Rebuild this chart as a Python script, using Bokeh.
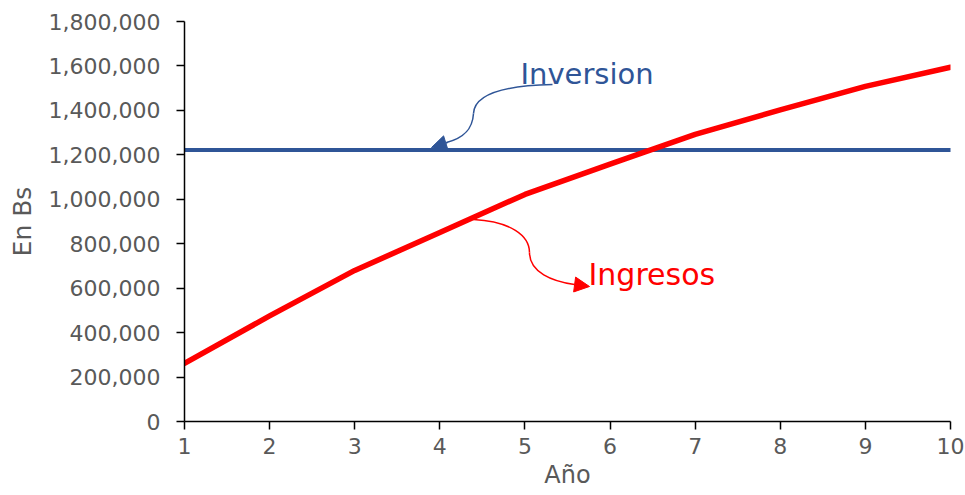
from bokeh.plotting import figure
from bokeh.models import (FixedTicker, NumeralTickFormatter, Range1d, Label,
                          Arrow, NormalHead)
from bokeh.embed import file_html
from bokeh.resources import INLINE

# ---- data ----
years = [1, 2, 3, 4, 5, 6, 7, 8, 9, 10]
ingresos = [262000, 475000, 680000, 850000, 1022000, 1158000, 1292000, 1402000, 1508000, 1594000]
inversion = [1222000] * 10
y_ticks = [0, 200000, 400000, 600000, 800000, 1000000, 1200000, 1400000, 1600000, 1800000]
x_ticks = years

BLUE = "#2F5597"
RED = "#FF0000"
GRAY = "#595959"
FONT = "DejaVu Sans"

W, H = 965, 495
L, R, T, B = 184, 15, 21, 74

p = figure(width=W, height=H, output_backend="svg", toolbar_location=None,
           x_range=Range1d(1, 10), y_range=Range1d(0, 1800000),
           min_border_left=L, min_border_right=R, min_border_top=T, min_border_bottom=B)
p.outline_line_color = None
p.xgrid.grid_line_color = None
p.ygrid.grid_line_color = None
p.background_fill_color = "white"
p.border_fill_color = "white"

# lines
p.line(years, inversion, line_color=BLUE, line_width=4, line_cap="round")
p.line(years, ingresos, line_color=RED, line_width=5.5, line_cap="round", line_join="round")

# axes
for ax in (p.xaxis[0], p.yaxis[0]):
    ax.axis_line_color = "black"
    ax.axis_line_width = 1.5
    ax.major_tick_line_color = "black"
    ax.major_tick_line_width = 1.5
    ax.major_tick_out = 8
    ax.major_tick_in = 0
    ax.minor_tick_line_color = None
    ax.major_label_text_color = GRAY
    ax.major_label_text_font = FONT
    ax.major_label_text_font_size = "22px"
    ax.axis_label_text_color = GRAY
    ax.axis_label_text_font = FONT
    ax.axis_label_text_font_size = "24px"
    ax.axis_label_text_font_style = "normal"

p.yaxis.axis_label_text_font_size = "25px"
p.xaxis.ticker = FixedTicker(ticks=x_ticks)
p.yaxis.ticker = FixedTicker(ticks=y_ticks)
p.yaxis.formatter = NumeralTickFormatter(format="0,0")
p.yaxis.major_label_standoff = 16
p.xaxis.major_label_standoff = 8
p.xaxis.axis_label = "Año"
p.yaxis.axis_label = "En Bs"
p.xaxis.axis_label_standoff = 4
p.yaxis.axis_label_standoff = 9

# helpers: pixel position in the picture -> data coordinates (annotations only)
def dx(px):
    return 1 + (px - 184) / ((950 - 184) / 9)

def dy(py):
    return (421 - py) * (1800000 / 400)

def curve(pts, color):
    # pts: list of (P0, C1, C2, P1) segments in pixels
    for (x0, y0), (c0x, c0y), (c1x, c1y), (x1, y1) in pts:
        p.bezier(x0=[dx(x0)], y0=[dy(y0)], x1=[dx(x1)], y1=[dy(y1)],
                 cx0=[dx(c0x)], cy0=[dy(c0y)], cx1=[dx(c1x)], cy1=[dy(c1y)],
                 line_color=color, line_width=1.5)

# Inversion callout
curve([((552, 84), (505, 85), (474, 93), (473, 113)),
       ((473, 113), (472, 130), (462, 138), (446, 142))], BLUE)
p.add_layout(Arrow(end=NormalHead(size=15, fill_color=BLUE, line_color=BLUE),
                   x_start=dx(447), y_start=dy(142), x_end=dx(431), y_end=dy(147),
                   line_color=BLUE, line_width=1.5))
p.add_layout(Label(x=dx(520), y=dy(73), text="Inversion", text_color=BLUE,
                   text_font=FONT, text_font_size="29px", text_baseline="alphabetic"))

# Ingresos callout
curve([((473, 219), (510, 221), (529, 235), (529, 252)),
       ((529, 252), (529, 272), (552, 281), (574, 284))], RED)
p.add_layout(Arrow(end=NormalHead(size=15, fill_color=RED, line_color=RED),
                   x_start=dx(574), y_start=dy(284), x_end=dx(589), y_end=dy(286),
                   line_color=RED, line_width=1.5))
p.add_layout(Label(x=dx(588), y=dy(274), text="Ingresos", text_color=RED,
                   text_font=FONT, text_font_size="30px", text_baseline="alphabetic"))

open("out.html", "w").write(file_html(p, INLINE))
